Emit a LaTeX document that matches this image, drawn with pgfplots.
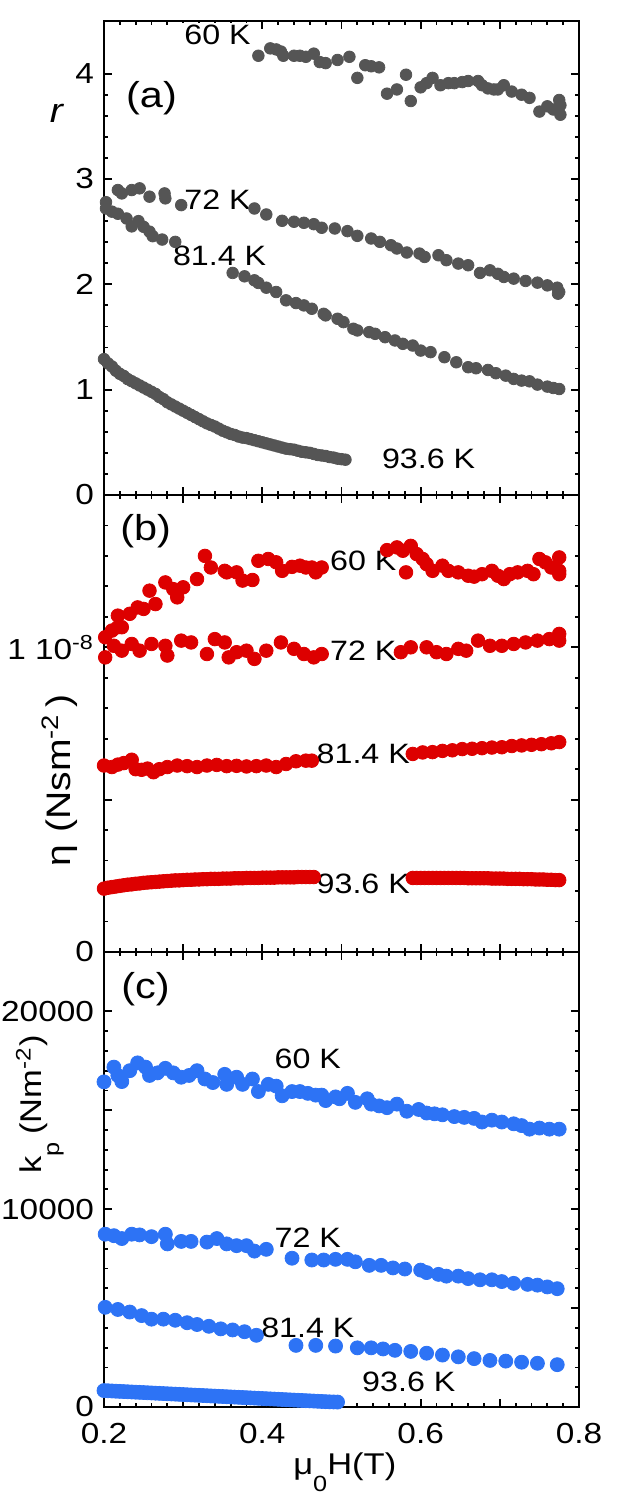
\documentclass[border=0pt]{standalone}
\usepackage{fontspec}
\setmainfont{Liberation Sans}[FakeStretch=1.15]
\usepackage{pgfplots}
\pgfplotsset{compat=1.18}
\definecolor{cgray}{RGB}{85,85,85}
\definecolor{cred}{RGB}{221,0,0}
\definecolor{cblue}{RGB}{45,115,245}
\pgfplotsset{panel/.style={scale only axis, width=237.5pt, xmin=0.2, xmax=0.8,
  anchor=south west, tick align=inside, tick pos=both,
  xtick={0.2,0.3,0.4,0.5,0.6,0.7,0.8}, minor x tick num=4, minor y tick num=4,
  major tick length=4pt, minor tick length=2.2pt,
  axis line style={line width=1pt}, every tick/.style={black, line width=0.9pt},
  clip=false, scaled ticks=false,
  tick label style={font=\fontsize{14.5}{16}\selectfont},
  yticklabel style={xshift=-1.5pt}, xticklabel style={yshift=-4.5pt}}}
\tikzset{tlab/.style={fill=white, inner sep=1pt, font=\fontsize{14}{16}\selectfont},
  plab/.style={font=\fontsize{18}{20}\selectfont},
  ylab/.style={font=\fontsize{17}{19}\selectfont}}
\begin{document}
\begin{tikzpicture}
\path[use as bounding box] (0,0) rectangle (309pt,752pt);
% ---------------- panel (a)
\begin{axis}[panel, at={(52pt,504.5pt)}, height=237pt, ymin=0, ymax=4.5,
  ytick={0,1,2,3,4}, yticklabels={0,1,2,3,4}, xticklabels={}]
\addplot[only marks, mark=*, mark size=2.9pt, color=cgray] coordinates {
(0.395,4.17)(0.41,4.24)(0.4175,4.23)(0.4235,4.21)(0.4265,4.17)(0.44,4.17)(0.4475,4.17)
(0.455,4.16)(0.465,4.19)(0.4725,4.11)(0.48,4.10)(0.495,4.13)(0.51,4.16)(0.52,3.96)
(0.53,4.08)(0.5375,4.07)(0.5475,4.06)(0.5575,3.81)(0.57,3.85)(0.5815,3.99)(0.5875,3.74)
(0.6,3.87)(0.6075,3.91)(0.615,3.96)(0.625,3.89)(0.635,3.91)(0.6425,3.91)(0.6525,3.92)
(0.66,3.93)(0.6725,3.93)(0.6775,3.89)(0.685,3.86)(0.6925,3.85)(0.6975,3.85)(0.705,3.89)
(0.715,3.83)(0.7275,3.80)(0.7375,3.77)(0.75,3.64)(0.76,3.69)(0.7675,3.66)(0.775,3.75)
(0.7765,3.70)(0.7765,3.61)};
\addplot[only marks, mark=*, mark size=2.9pt, color=cgray] coordinates {
(0.2025,2.78)(0.2175,2.895)(0.2225,2.863)(0.235,2.895)(0.245,2.911)(0.2575,2.832)
(0.2765,2.863)(0.2775,2.816)(0.2975,2.752)(0.39,2.72)(0.405,2.663)(0.425,2.603)
(0.44,2.594)(0.4525,2.584)(0.465,2.571)(0.475,2.537)(0.4915,2.53)(0.5075,2.505)
(0.52,2.46)(0.5375,2.435)(0.5485,2.403)(0.5625,2.371)(0.57,2.34)(0.5825,2.302)
(0.5985,2.292)(0.605,2.26)(0.6225,2.276)(0.6325,2.229)(0.6475,2.197)(0.66,2.181)
(0.675,2.108)(0.6875,2.133)(0.6975,2.10)(0.705,2.07)(0.7175,2.054)(0.7325,2.032)
(0.7475,2.016)(0.76,1.99)(0.7725,1.968)(0.775,1.927)(0.7735,1.911)};
\addplot[only marks, mark=*, mark size=2.9pt, color=cgray] coordinates {
(0.2025,2.72)(0.21,2.69)(0.2175,2.67)(0.2285,2.625)(0.235,2.55)(0.2435,2.60)(0.25,2.546)
(0.2575,2.50)(0.2615,2.457)(0.2735,2.425)(0.29,2.403)(0.3625,2.108)(0.3775,2.076)
(0.39,2.038)(0.395,2.013)(0.405,1.968)(0.4175,1.927)(0.43,1.848)(0.4425,1.822)
(0.4525,1.80)(0.4625,1.768)(0.4775,1.72)(0.48,1.705)(0.495,1.673)(0.5025,1.641)
(0.515,1.578)(0.52,1.562)(0.535,1.546)(0.5425,1.53)(0.555,1.498)(0.5675,1.467)
(0.5775,1.435)(0.59,1.419)(0.6,1.371)(0.6125,1.356)(0.63,1.308)(0.645,1.26)
(0.66,1.213)(0.67,1.203)(0.685,1.187)(0.695,1.156)(0.7075,1.133)(0.7175,1.102)
(0.7275,1.086)(0.7375,1.079)(0.7475,1.048)(0.76,1.029)(0.7675,1.016)(0.775,1.006)};
\addplot[only marks, mark=*, mark size=2.9pt, color=cgray] coordinates {
(0.200,1.29)(0.205,1.25)(0.210,1.22)(0.215,1.18)(0.220,1.15)(0.225,1.13)(0.230,1.10)
(0.235,1.08)(0.240,1.06)(0.245,1.04)(0.250,1.02)(0.255,1.00)(0.260,0.98)(0.265,0.96)
(0.270,0.93)(0.275,0.91)(0.280,0.88)(0.285,0.86)(0.290,0.84)(0.295,0.82)(0.300,0.80)
(0.305,0.78)(0.310,0.76)(0.315,0.74)(0.320,0.72)(0.325,0.70)(0.330,0.68)(0.335,0.665)
(0.340,0.65)(0.345,0.63)(0.350,0.61)(0.355,0.595)(0.360,0.58)(0.365,0.57)(0.370,0.555)
(0.375,0.545)(0.380,0.54)(0.385,0.53)(0.390,0.52)(0.395,0.51)(0.400,0.50)(0.405,0.49)
(0.410,0.48)(0.415,0.47)(0.420,0.46)(0.425,0.45)(0.430,0.44)(0.435,0.435)(0.440,0.43)
(0.445,0.42)(0.450,0.41)(0.455,0.405)(0.460,0.40)(0.465,0.39)(0.470,0.38)(0.475,0.375)
(0.480,0.37)(0.485,0.36)(0.490,0.355)(0.495,0.345)(0.500,0.34)(0.505,0.335)};
\node[tlab] at (axis cs:0.3435,4.37) {60 K};
\node[tlab] at (axis cs:0.3435,2.80) {72 K};
\node[tlab] at (axis cs:0.346,2.27) {81.4 K};
\node[tlab] at (axis cs:0.61,0.34) {93.6 K};
\node[plab] at (axis cs:0.26,3.77) {(a)};
\node[ylab] at (rel axis cs:-0.099,0.806) {\textit{r}};
\end{axis}
% ---------------- panel (b)
\begin{axis}[panel, at={(52pt,276pt)}, height=228.5pt, ymin=0, ymax=1.5,
  ytick={0,0.5,1,1.5}, yticklabels={0,,1 10\textsuperscript{-8},}, xticklabels={}]
\addplot[only marks, mark=*, mark size=3.4pt, color=cred] coordinates {
(0.2015,1.033)(0.21,1.055)(0.2175,1.066)(0.2225,1.066)(0.2175,1.104)(0.2325,1.11)
(0.2425,1.131)(0.25,1.126)(0.2575,1.186)(0.265,1.142)(0.2775,1.213)(0.2875,1.191)
(0.2925,1.164)(0.30,1.197)(0.3175,1.224)(0.3275,1.30)(0.335,1.262)(0.3525,1.251)
(0.355,1.246)(0.3675,1.246)(0.375,1.219)(0.3875,1.221)(0.395,1.284)(0.4075,1.29)
(0.4175,1.279)(0.425,1.251)(0.4375,1.264)(0.4475,1.268)(0.455,1.262)(0.4625,1.262)
(0.4675,1.246)(0.475,1.262)(0.5575,1.319)(0.57,1.328)(0.5775,1.317)(0.5815,1.246)
(0.5875,1.333)(0.595,1.306)(0.6025,1.29)(0.6075,1.273)(0.615,1.251)(0.6275,1.268)
(0.635,1.251)(0.6475,1.246)(0.66,1.235)(0.6675,1.232)(0.6775,1.24)(0.69,1.251)
(0.6975,1.235)(0.705,1.224)(0.7125,1.24)(0.7225,1.246)(0.735,1.251)(0.7425,1.24)
(0.75,1.29)(0.7575,1.279)(0.765,1.262)(0.775,1.295)(0.775,1.251)(0.775,1.24)};
\addplot[only marks, mark=*, mark size=3.4pt, color=cred] coordinates {
(0.2015,0.967)(0.2125,1.005)(0.2225,0.989)(0.235,1.011)(0.245,0.989)(0.26,1.011)
(0.2775,1.005)(0.28,0.973)(0.2975,1.022)(0.31,1.016)(0.33,0.978)(0.34,1.027)
(0.3525,1.016)(0.3575,0.967)(0.3675,0.984)(0.38,0.989)(0.39,0.962)(0.405,0.989)
(0.4235,1.016)(0.44,0.995)(0.4525,0.978)(0.465,0.967)(0.475,0.978)(0.575,0.984)
(0.5875,1.0)(0.6075,1.0)(0.62,0.984)(0.6325,0.978)(0.6475,0.995)(0.6575,0.989)
(0.6725,1.022)(0.6875,1.005)(0.7025,1.005)(0.7175,1.011)(0.7325,1.016)(0.7475,1.022)
(0.7625,1.027)(0.775,1.044)(0.775,1.022)};
\addplot[only marks, mark=*, mark size=3.4pt, color=cred] coordinates {
(0.2,0.612)(0.21,0.607)(0.2175,0.615)(0.225,0.62)(0.235,0.631)(0.24,0.60)(0.2475,0.598)
(0.255,0.602)(0.2625,0.59)(0.27,0.60)(0.28,0.607)(0.2925,0.612)(0.305,0.61)(0.3175,0.607)
(0.33,0.612)(0.3425,0.614)(0.355,0.61)(0.3675,0.611)(0.38,0.609)(0.3925,0.61)(0.405,0.612)
(0.4175,0.607)(0.43,0.617)(0.4425,0.626)(0.455,0.628)(0.4625,0.628)
(0.59,0.65)(0.6025,0.655)(0.615,0.656)(0.6275,0.66)(0.64,0.662)(0.6525,0.666)(0.665,0.667)
(0.6775,0.669)(0.69,0.671)(0.7025,0.672)(0.715,0.676)(0.7275,0.678)(0.74,0.68)(0.7525,0.682)
(0.765,0.685)(0.775,0.689)};
\addplot[only marks, mark=*, mark size=3.4pt, color=cred] coordinates {
(0.200,0.208)(0.205,0.211)(0.210,0.213)(0.215,0.215)(0.220,0.217)(0.225,0.219)(0.230,0.221)
(0.235,0.222)(0.240,0.224)(0.245,0.225)(0.250,0.227)(0.255,0.228)(0.260,0.229)(0.265,0.230)
(0.270,0.231)(0.275,0.232)(0.280,0.233)(0.285,0.234)(0.290,0.235)(0.295,0.235)(0.300,0.236)
(0.305,0.237)(0.310,0.237)(0.315,0.238)(0.320,0.238)(0.325,0.239)(0.330,0.239)(0.335,0.240)
(0.340,0.240)(0.345,0.240)(0.350,0.241)(0.355,0.241)(0.360,0.241)(0.365,0.242)(0.370,0.242)
(0.375,0.242)(0.380,0.243)(0.385,0.243)(0.390,0.243)(0.395,0.243)(0.400,0.244)(0.405,0.244)
(0.410,0.244)(0.415,0.244)(0.420,0.245)(0.425,0.245)(0.430,0.245)(0.435,0.245)(0.440,0.245)
(0.445,0.246)(0.450,0.246)(0.455,0.246)(0.460,0.246)(0.465,0.246)
(0.590,0.243)(0.595,0.243)(0.600,0.243)(0.605,0.243)(0.610,0.243)(0.615,0.243)(0.620,0.243)
(0.625,0.243)(0.630,0.243)(0.635,0.243)(0.640,0.243)(0.645,0.243)(0.650,0.243)(0.655,0.243)
(0.660,0.242)(0.665,0.242)(0.670,0.242)(0.675,0.242)(0.680,0.242)(0.685,0.242)(0.690,0.241)
(0.695,0.241)(0.700,0.241)(0.705,0.241)(0.710,0.240)(0.715,0.240)(0.720,0.240)(0.725,0.240)
(0.730,0.239)(0.735,0.239)(0.740,0.239)(0.745,0.238)(0.750,0.238)(0.755,0.238)(0.760,0.237)
(0.765,0.237)(0.770,0.236)(0.775,0.236)};
\node[tlab] at (axis cs:0.5275,1.284) {60 K};
\node[tlab] at (axis cs:0.5275,0.989) {72 K};
\node[tlab] at (axis cs:0.5275,0.65) {81.4 K};
\node[tlab] at (axis cs:0.5275,0.224) {93.6 K};
\node[plab] at (axis cs:0.2525,1.382) {(b)};
\node[ylab, rotate=90] at (rel axis cs:-0.093,0.376) {η\hspace{0.35em}(Nsm\textsuperscript{-2}\hspace{0.2em})};
\end{axis}
% ---------------- panel (c)
\begin{axis}[panel, at={(52pt,48.5pt)}, height=227.5pt, ymin=0, ymax=23000,
  ytick={0,5000,10000,15000,20000}, yticklabels={0,,10000,,20000},
  xticklabels={0.2,,0.4,,0.6,,0.8}]
\addplot[only marks, mark=*, mark size=3.5pt, color=cblue] coordinates {
(0.2,16435)(0.2125,17180)(0.2175,16760)(0.2225,16450)(0.2325,17000)(0.2425,17395)
(0.2525,17180)(0.2575,16760)(0.2675,16890)(0.2775,17120)(0.2875,16890)(0.2975,16670)
(0.3075,16760)(0.3175,17000)(0.3275,16580)(0.3375,16400)(0.3525,16815)(0.355,16310)
(0.3675,16670)(0.375,16310)(0.3875,16580)(0.395,15945)(0.4075,16310)(0.4175,16220)
(0.425,15730)(0.4375,15945)(0.4475,15945)(0.4575,15855)(0.4675,15765)(0.475,15765)
(0.48,15490)(0.4925,15675)(0.4975,15580)(0.5075,15855)(0.5175,15400)(0.5325,15580)
(0.5375,15310)(0.5475,15220)(0.5575,15130)(0.57,15310)(0.5825,14950)(0.5975,15040)
(0.6075,14860)(0.6175,14820)(0.6275,14770)(0.6425,14680)(0.655,14640)(0.6675,14590)
(0.6775,14405)(0.69,14500)(0.7025,14405)(0.7175,14315)(0.7275,14225)(0.7375,14045)
(0.75,14100)(0.7625,14045)(0.775,14045)};
\addplot[only marks, mark=*, mark size=3.5pt, color=cblue] coordinates {
(0.2015,8735)(0.2125,8660)(0.2225,8515)(0.235,8735)(0.245,8700)(0.26,8610)(0.2775,8735)
(0.28,8245)(0.2975,8370)(0.31,8370)(0.33,8335)(0.3425,8515)(0.355,8245)(0.3675,8155)
(0.38,8155)(0.39,7880)(0.405,7970)(0.4375,7520)(0.4625,7430)(0.4775,7430)(0.4925,7465)
(0.5075,7465)(0.5175,7340)(0.535,7160)(0.55,7160)(0.565,7030)(0.58,6975)(0.6,6920)
(0.6075,6795)(0.6225,6705)(0.6325,6615)(0.6475,6615)(0.66,6490)(0.675,6430)(0.69,6430)
(0.7025,6340)(0.7175,6250)(0.735,6200)(0.7475,6160)(0.76,6070)(0.7725,5980)};
\addplot[only marks, mark=*, mark size=3.5pt, color=cblue] coordinates {
(0.2015,5040)(0.2175,4930)(0.2325,4800)(0.2475,4620)(0.26,4440)(0.275,4440)(0.29,4385)
(0.305,4260)(0.3175,4170)(0.3325,4080)(0.3475,3950)(0.3625,3895)(0.3775,3805)(0.3925,3625)
(0.4425,3115)(0.4675,3115)(0.4925,3080)(0.52,2990)(0.5375,2990)(0.5525,2935)(0.5675,2865)
(0.5875,2810)(0.6075,2720)(0.6275,2625)(0.6475,2535)(0.6675,2445)(0.6875,2355)(0.7075,2320)
(0.7275,2265)(0.7475,2210)(0.7725,2140)};
\addplot[only marks, mark=*, mark size=3.5pt, color=cblue] coordinates {
(0.200,830)(0.205,820)(0.210,810)(0.215,800)(0.220,790)(0.225,780)(0.230,770)(0.235,760)
(0.240,750)(0.245,740)(0.250,730)(0.255,720)(0.260,710)(0.265,700)(0.270,690)(0.275,680)
(0.280,670)(0.285,660)(0.290,650)(0.295,640)(0.300,630)(0.305,620)(0.310,610)(0.315,600)
(0.320,590)(0.325,580)(0.330,570)(0.335,560)(0.340,550)(0.345,540)(0.350,530)(0.355,520)
(0.360,510)(0.365,500)(0.370,490)(0.375,480)(0.380,470)(0.385,460)(0.390,450)(0.395,440)
(0.400,430)(0.405,420)(0.410,410)(0.415,400)(0.420,390)(0.425,380)(0.430,370)(0.435,360)
(0.440,350)(0.445,340)(0.450,330)(0.455,320)(0.460,310)(0.465,300)(0.470,290)(0.475,280)
(0.480,270)(0.485,260)(0.490,255)(0.495,250)};
\node[tlab] at (axis cs:0.4575,17575) {60 K};
\node[tlab] at (axis cs:0.4575,8550) {72 K};
\node[tlab] at (axis cs:0.4575,4020) {81.4 K};
\node[tlab] at (axis cs:0.585,1268) {93.6 K};
\node[plab] at (axis cs:0.2525,21110) {(c)};
\node[rotate=90, font=\fontsize{15}{17}\selectfont] at (rel axis cs:-0.135,0.665) {k\raisebox{-0.6em}{\fontsize{11}{12}\selectfont p}\hspace{0.25em}(Nm\textsuperscript{-2})};
\node[font=\fontsize{15}{17}\selectfont] at (rel axis cs:0.507,-0.143) {μ\raisebox{-0.55em}{\fontsize{11}{12}\selectfont 0}H(T)};
\end{axis}
\end{tikzpicture}
\end{document}
